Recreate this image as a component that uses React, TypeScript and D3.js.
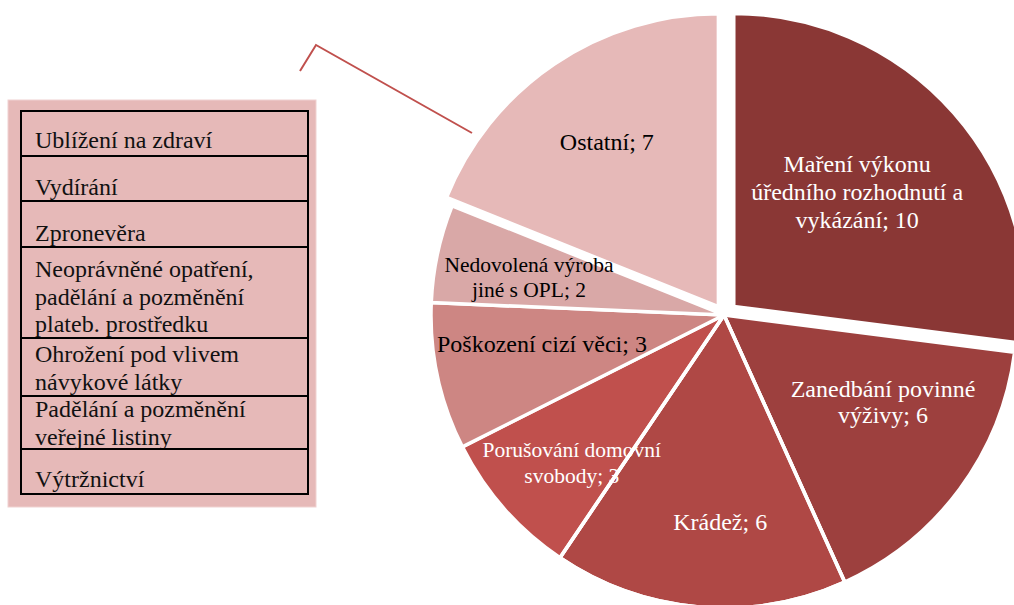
import React from "react";
import * as d3 from "d3";

const categories = [
  "Maření výkonu úředního rozhodnutí a vykázání",
  "Zanedbání povinné výživy",
  "Krádež",
  "Porušování domovní svobody",
  "Poškození cizí věci",
  "Nedovolená výroba jiné s OPL",
  "Ostatní",
];
const values = [10, 6, 6, 3, 3, 2, 7];
const labelLines = [
  ["Maření výkonu", "úředního rozhodnutí a", "vykázání; 10"],
  ["Zanedbání povinné", "výživy; 6"],
  ["Krádež; 6"],
  ["Porušování domovní", "svobody; 3"],
  ["Poškození cizí věci; 3"],
  ["Nedovolená výroba", "jiné s OPL; 2"],
  ["Ostatní; 7"],
];
const otherItems = [
  ["Ublížení na zdraví"],
  ["Vydírání"],
  ["Zpronevěra"],
  ["Neoprávněné opatření,", "padělání a pozměnění", "plateb. prostředku"],
  ["Ohrožení pod vlivem", "návykové látky"],
  ["Padělání a pozměnění", "veřejné listiny"],
  ["Výtržnictví"],
];

// styling
const colors = ["#8A3735", "#9D403E", "#AF4845", "#C0504D", "#CD8683", "#D9A8A7", "#E6B9B8"];
const textColors = ["#fff", "#fff", "#fff", "#fff", "#000", "#000", "#000"];
const explode = [13, 0, 0, 0, 0, 0, 10];
const labelFrac = [0.619, 0.618, 0.705, 0.723, 0.629, 0.678, 0.714];
const labelAngAdj = [-1.4, -7.9, -3.8, -2.7, 3.3, -1.2, 0];
const labelSize = [24, 24, 24, 21.5, 24, 21.5, 24];
const labelLH = [28, 26, 26, 26, 26, 25, 26];
const strokeOnTop = [false, false, true, false, false, false, false];
const rowEdges = [111, 156, 201, 247, 338, 396, 449, 494];
const rowFirstBaseline = [148, 195, 241, 277, 362, 417, 487];

export default function App() {
  const cx = 724, cy = 315, r = 293;
  const pie = d3.pie<number>().sort(null).startAngle(0).endAngle(2 * Math.PI);
  const arcs = pie(values);
  const arc = d3.arc<d3.PieArcDatum<number>>().innerRadius(0).outerRadius(r);
  const font = '"Liberation Serif", "Times New Roman", Tinos, "Nimbus Roman", "DejaVu Serif", serif';
  const offset = (a: d3.PieArcDatum<number>, i: number) => {
    const mid = (a.startAngle + a.endAngle) / 2;
    return `translate(${Math.sin(mid) * explode[i]},${-Math.cos(mid) * explode[i]})`;
  };

  return (
    <svg width={1014} height={605} style={{ position: "absolute", left: 0, top: 0, fontFamily: font }}>
      <rect width={1014} height={605} fill="#fff" />
      <g transform={`translate(${cx},${cy})`}>
        {arcs.map((a, i) => (
          <path key={i} d={arc(a) || ""} transform={offset(a, i)} fill={colors[i]}
            stroke="#fff" strokeWidth={3.5} strokeLinejoin="miter" />
        ))}
        {arcs.map((a, i) => {
          const mid = (a.startAngle + a.endAngle) / 2 + (labelAngAdj[i] * Math.PI) / 180;
          const d = labelFrac[i] * r;
          const x = Math.sin(mid) * d;
          const y = -Math.cos(mid) * d;
          const lines = labelLines[i];
          const lh = labelLH[i];
          const y0 = y - ((lines.length - 1) * lh) / 2 + labelSize[i] * 0.35;
          return (
            <text key={"l" + i} x={x} y={y0} textAnchor="middle" fontSize={labelSize[i]} fill={textColors[i]}
              style={{ fontFamily: font }}>
              {lines.map((t, j) => (
                <tspan key={j} x={x} y={y0 + j * lh}>{t}</tspan>
              ))}
            </text>
          );
        })}
        {arcs.map((a, i) =>
          strokeOnTop[i] ? (
            <path key={"s" + i} d={arc(a) || ""} transform={offset(a, i)} fill="none"
              stroke="#fff" strokeWidth={3.5} strokeLinejoin="miter" />
          ) : null
        )}
      </g>
      <polyline points="300,71 316,45 472,133" fill="none" stroke="#C0504D" strokeWidth={2} />
      <rect x={8} y={100} width={308} height={407} fill="#E6B9B8" stroke="#F0D2D1" strokeWidth={1} />
      {otherItems.map((lines, i) => (
        <g key={"o" + i}>
          <rect x={21} y={rowEdges[i]} width={287} height={rowEdges[i + 1] - rowEdges[i]}
            fill="none" stroke="#000" strokeWidth={2} />
          <text x={35} y={rowFirstBaseline[i]} fontSize={24} fill="#111" style={{ fontFamily: font }}>
            {lines.map((t, j) => (
              <tspan key={j} x={35} y={rowFirstBaseline[i] + j * 27.5}>{t}</tspan>
            ))}
          </text>
        </g>
      ))}
    </svg>
  );
}
